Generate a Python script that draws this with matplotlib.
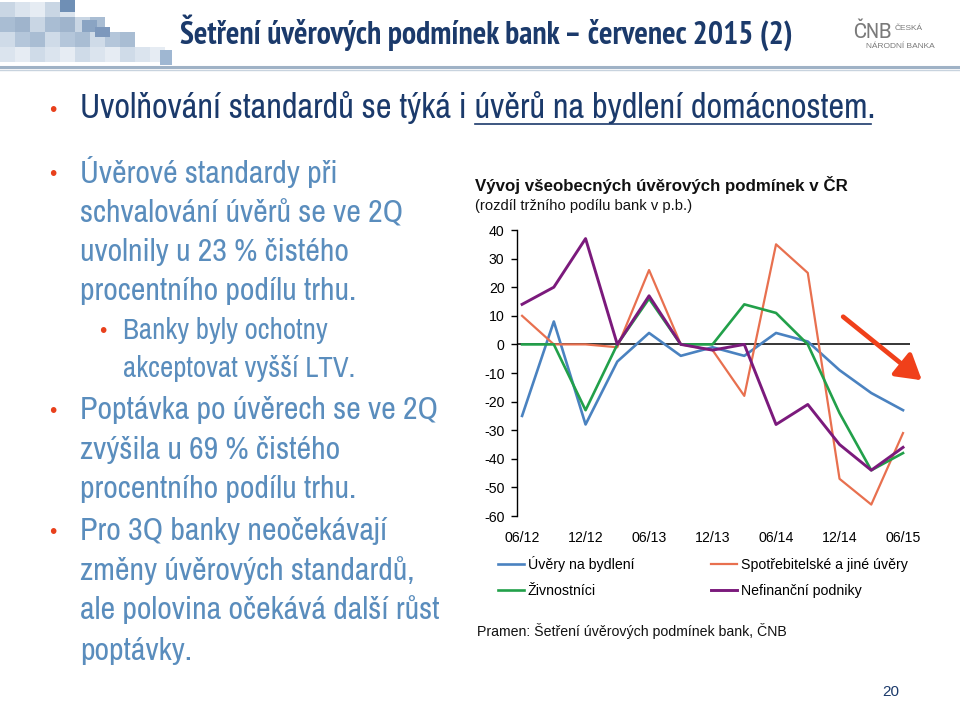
import matplotlib
matplotlib.use("Agg")
import matplotlib.pyplot as plt
from matplotlib import font_manager as fm
from matplotlib.patches import Rectangle, FancyArrowPatch

# ---------------- data ----------------
quarters = ["06/12", "09/12", "12/12", "03/13", "06/13", "09/13", "12/13",
            "03/14", "06/14", "09/14", "12/14", "03/15", "06/15"]
tick_labels = ["06/12", "12/12", "06/13", "12/13", "06/14", "12/14", "06/15"]
bydleni = [-25, 8, -28, -6, 4, -4, -1, -4, 4, 1, -9, -17, -23]
spotrebitelske = [10, 0, 0, -1, 26, 0, -2, -18, 35, 25, -47, -56, -31]
zivnostnici = [0, 0, -23, 0, 16, 0, 0, 14, 11, 0, -24, -44, -38]
nefinancni = [14, 20, 37, 0, 17, 0, -2, 0, -28, -21, -35, -44, -36]
series_names = ["Úvěry na bydlení", "Spotřebitelské a jiné úvěry",
                "Živnostníci", "Nefinanční podniky"]
y_ticks = [40, 30, 20, 10, 0, -10, -20, -30, -40, -50, -60]

# ---------------- fonts ----------------
ttf = fm.fontManager.ttflist
available = {f.name for f in ttf}
narrow_candidates = ["Liberation Sans Narrow", "Arial Narrow", "Archivo Narrow",
                     "PT Sans Narrow", "Roboto Condensed", "Arimo Narrow",
                     "Open Sans Condensed", "Fira Sans Condensed",
                     "IBM Plex Sans Condensed", "Encode Sans Condensed",
                     "Asap Condensed"]
NARROW_NAME = next((n for n in narrow_candidates if n in available), None)
BOLD_NARROW_NAME = next((n for n in narrow_candidates
                         if any(f.name == n and (f.weight in ("bold", 700) or
                                                 str(f.weight) in ("700", "bold"))
                                and f.style == "normal" for f in ttf)), NARROW_NAME)
if NARROW_NAME:
    NARROW = [NARROW_NAME, "Liberation Sans", "DejaVu Sans"]
else:
    NARROW = ["Liberation Sans", "DejaVu Sans"]
BNARROW = [BOLD_NARROW_NAME] + NARROW if BOLD_NARROW_NAME else NARROW
SANS = ["Liberation Sans", "DejaVu Sans"]

W, H = 960, 702
fig = plt.figure(figsize=(W / 100, H / 100), dpi=100)
fig.patch.set_facecolor("white")
renderer = fig.canvas.get_renderer()

def fx(px):
    return px / W

def fy(py):
    return 1 - py / H

def fit_text(t, target_w):
    bb = t.get_window_extent(renderer)
    t.set_fontsize(t.get_fontsize() * target_w / bb.width)

# ---------------- header decoration ----------------
deco = fig.add_axes([0, 0, 1, 1])
deco.set_xlim(0, W)
deco.set_ylim(H, 0)
deco.axis("off")
shades = ["#c9d6e4", "#b4c6da", "#dbe4ee", "#a9bdd3", "#e6ecf3", "#9fb4cc", "#cfdbe8"]
sq = 15
row_len = [5, 7, 9, 11]
for r in range(4):
    for c in range(row_len[r]):
        col = shades[(r * 3 + c * 2 + c // 3) % len(shades)]
        deco.add_patch(Rectangle((c * sq, r * sq + 2), sq, sq, color=col, lw=0))
deco.add_patch(Rectangle((60, 0), sq, 12, color="#6f8fb5", lw=0))
deco.add_patch(Rectangle((82, 20), sq, 12, color="#8aa4c3", lw=0))
deco.add_patch(Rectangle((95, 27), sq, 10, color="#7d98bc", lw=0))
deco.add_patch(Rectangle((160, 50), 12, 15, color="#9fb7d2", lw=0))
deco.plot([0, W], [66.5, 66.5], color="#9fb2c6", lw=2.2)
deco.plot([0, W], [70, 70], color="#c8d3de", lw=1.0)

t_title = fig.text(fx(180), fy(33), "Šetření úvěrových podmínek bank – červenec 2015 (2)",
                   family=BNARROW, fontsize=20, fontweight="bold", color="#1b3a6b",
                   ha="left", va="center")
fit_text(t_title, 615)
fig.text(fx(853), fy(32), "ČNB", family=NARROW, fontsize=16, color="#7a7a7a",
         ha="left", va="center")
fig.text(fx(895), fy(29), "ČESKÁ", family=SANS, fontsize=6.0, color="#7a7a7a",
         ha="left", va="center")
fig.text(fx(866), fy(46), "NÁRODNÍ BANKA", family=SANS, fontsize=6.0, color="#7a7a7a",
         ha="left", va="center")

# ---------------- left text ----------------
navy = "#1b3a6b"
steel = "#5a8dbd"
bullet_col = "#e8401c"
fs_top = 24.7
fs_main = 23.0
fs_sub = 20.8

def bullet(x, y):
    fig.text(fx(x), fy(y), "•", family=SANS, fontsize=15, color=bullet_col,
             ha="center", va="center")

bullet(53, 110)
prefix = "Uvolňování standardů se týká i "
full = "Uvolňování standardů se týká i úvěrů na bydlení domácnostem."
t_full = fig.text(fx(80), fy(108), full, family=NARROW, fontsize=fs_top,
                  color=navy, ha="left", va="center")
fit_text(t_full, 793)
t_pre = fig.text(fx(80), fy(108), prefix, family=NARROW, fontsize=t_full.get_fontsize(),
                 color="none", ha="left", va="center")
bb_full = t_full.get_window_extent(renderer)
bb_pre = t_pre.get_window_extent(renderer)
t_pre.remove()
deco.plot([bb_pre.x1, bb_full.x1 - 4], [124, 124], color=navy, lw=1.2)

bullet(53, 174)
for s, y in [("Úvěrové standardy při", 172), ("schvalování úvěrů se ve 2Q", 213),
             ("uvolnily u 23 % čistého", 252), ("procentního podílu trhu.", 291)]:
    fig.text(fx(80), fy(y), s, family=NARROW, fontsize=fs_main, color=steel,
             ha="left", va="center")
bullet(103, 332)
for s, y in [("Banky byly ochotny", 331), ("akceptovat vyšší LTV.", 369)]:
    fig.text(fx(123), fy(y), s, family=NARROW, fontsize=fs_sub, color=steel,
             ha="left", va="center")
bullet(53, 412)
for s, y in [("Poptávka po úvěrech se ve 2Q", 410), ("zvýšila u 69 % čistého", 450),
             ("procentního podílu trhu.", 489)]:
    fig.text(fx(80), fy(y), s, family=NARROW, fontsize=fs_main, color=steel,
             ha="left", va="center")
bullet(53, 533)
for s, y in [("Pro 3Q banky neočekávají", 531), ("změny úvěrových standardů,", 571),
             ("ale polovina očekává další růst", 610), ("poptávky.", 651)]:
    fig.text(fx(80), fy(y), s, family=NARROW, fontsize=fs_main, color=steel,
             ha="left", va="center")

# ---------------- chart ----------------
CFS = 10.2
fig.text(fx(475), fy(185), "Vývoj všeobecných úvěrových podmínek v ČR",
         family=SANS, fontsize=12.2, fontweight="bold", color="#111111",
         ha="left", va="center")
fig.text(fx(475), fy(206), "(rozdíl tržního podílu bank v p.b.)",
         family=SANS, fontsize=10.6, color="#111111", ha="left", va="center")

ax = fig.add_axes([fx(517), fy(516), fx(910 - 517), (516 - 230) / H])
ax.set_facecolor("none")
x = list(range(len(quarters)))
colors = ["#4a82c0", "#e8704f", "#22a04a", "#7b1a7c"]
lws = [1.9, 1.6, 1.9, 2.1]
data = [bydleni, spotrebitelske, zivnostnici, nefinancni]
handles = []
for vals, c, lw, name in zip(data, colors, lws, series_names):
    h, = ax.plot(x, vals, color=c, lw=lw, label=name)
    handles.append(h)
ax.axhline(0, color="black", lw=1.1, zorder=0.5)
ax.set_ylim(-60, 40)
ax.set_xlim(-0.16, 12.22)
ax.set_yticks(y_ticks)
ax.set_yticklabels([str(v) for v in y_ticks], family=SANS, fontsize=CFS)
ax.set_xticks(x[::2])
ax.set_xticklabels(tick_labels, family=SANS, fontsize=CFS)
ax.tick_params(axis="x", length=0, pad=11)
ax.tick_params(axis="y", length=4, width=1, direction="out", pad=5)
for side in ["top", "right", "bottom"]:
    ax.spines[side].set_visible(False)
ax.spines["left"].set_linewidth(1.0)

order = [0, 2, 1, 3]
fig.legend([handles[i] for i in order], [series_names[i] for i in order],
           ncol=2, loc="upper left", bbox_to_anchor=(fx(485), fy(543)),
           frameon=False, prop={"family": SANS, "size": CFS},
           handlelength=1.85, handletextpad=0.28, columnspacing=5.4,
           labelspacing=0.85)

fig.text(fx(477), fy(631), "Pramen: Šetření úvěrových podmínek bank, ČNB",
         family=SANS, fontsize=CFS, color="#111111", ha="left", va="center")

# trend arrow
fig.add_artist(FancyArrowPatch(
    (fx(841), fy(315)), (fx(924), fy(382)), transform=fig.transFigure,
    arrowstyle="-|>,head_length=10,head_width=6", color="#f0401a", lw=3.4,
    mutation_scale=1.5))

fig.text(fx(891), fy(692), "20", family=SANS, fontsize=11, color="#1b3a6b",
         ha="center", va="center")

fig.savefig("out.png", dpi=100)
